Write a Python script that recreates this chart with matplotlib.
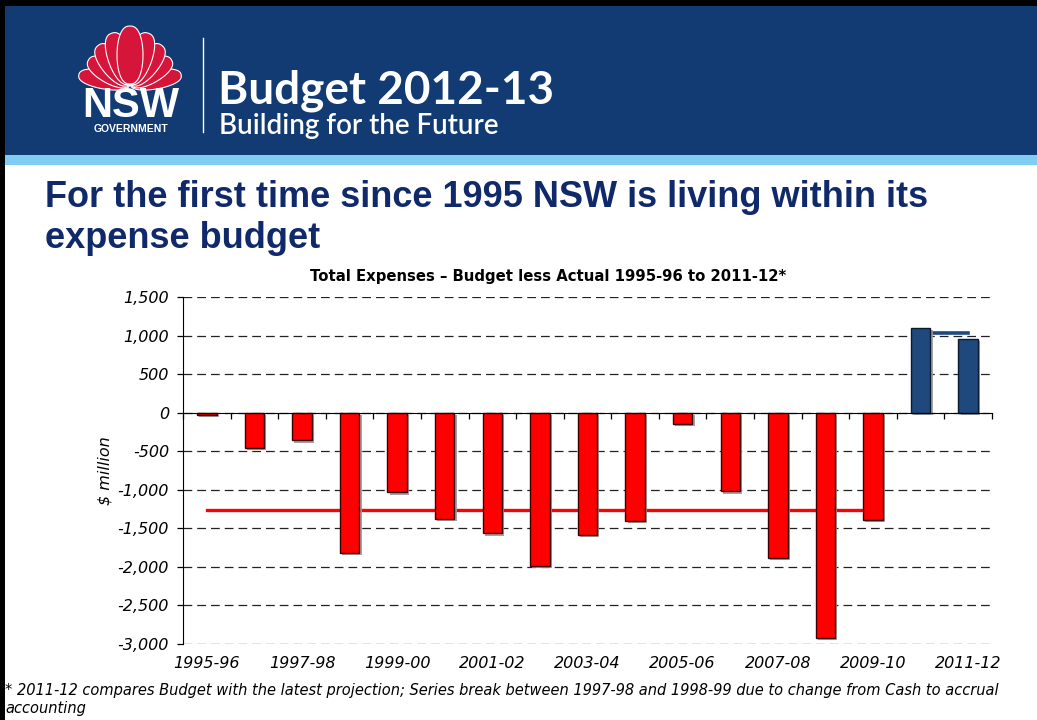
import numpy as np
import matplotlib
matplotlib.use('Agg')
import matplotlib.pyplot as plt
from matplotlib.patches import Rectangle, Polygon
from matplotlib.lines import Line2D
from matplotlib import patheffects
from matplotlib.ticker import FuncFormatter

# data ($ million, budget less actual)
years = ['1995-96', '1996-97', '1997-98', '1998-99', '1999-00', '2000-01',
         '2001-02', '2002-03', '2003-04', '2004-05', '2005-06', '2006-07',
         '2007-08', '2008-09', '2009-10', '2010-11', '2011-12']
budget_less_actual = [-25, -460, -360, -1820, -1035, -1380, -1565, -1990, -1590,
                      -1405, -145, -1020, -1885, -2920, -1395, 1095, 955]
red_years = years[:15]
blue_years = years[15:]
red_avg = -1260
blue_avg = 1030
y_ticks = [-3000, -2500, -2000, -1500, -1000, -500, 0, 500, 1000, 1500]

W, H = 1037, 720
fig = plt.figure(figsize=(W / 100, H / 100), dpi=100)
fig.patch.set_facecolor('white')

def fx(x):
    return x / W

def fy(y):
    return 1 - y / H

# ---- slide header ----
fig.patches.append(Rectangle((0, fy(155)), 1, fy(6) - fy(155), transform=fig.transFigure,
                             facecolor='#123a73', edgecolor='none', zorder=0))
fig.patches.append(Rectangle((0, fy(165)), 1, fy(155) - fy(165), transform=fig.transFigure,
                             facecolor='#80ccf2', edgecolor='none', zorder=0))
fig.patches.append(Rectangle((0, fy(6)), 1, 1 - fy(6), transform=fig.transFigure,
                             facecolor='black', edgecolor='none', zorder=0))
fig.patches.append(Rectangle((0, 0), fx(5), 1, transform=fig.transFigure,
                             facecolor='black', edgecolor='none', zorder=0))

# waratah logo (rough)
def petal(bx, by, length, width, ang):
    t = np.linspace(0, np.pi, 30)
    along = length * (1 - np.cos(t)) / 2
    side = width / 2 * np.sin(t) ** 0.8
    pts_l = np.column_stack([-side, along])
    pts_r = np.column_stack([side[::-1], along[::-1]])
    pts = np.vstack([pts_l, pts_r])
    a = np.deg2rad(ang)
    rx = pts[:, 0] * np.cos(a) + pts[:, 1] * np.sin(a)
    ry = -pts[:, 0] * np.sin(a) + pts[:, 1] * np.cos(a)
    return np.column_stack([fx(bx + rx), fy(by - ry)])

for length, width, ang in [(52, 19, 80), (48, 22, 60), (50, 24, 40), (54, 25, 20), (58, 26, 0)]:
    for sgn in ([1, -1] if ang else [1]):
        fig.patches.append(Polygon(petal(130, 84, length, width, sgn * ang), closed=True,
                                   transform=fig.transFigure, facecolor='#d6153b',
                                   edgecolor='white', linewidth=0.8, zorder=1))

fig.text(fx(131), fy(117), 'NSW', color='white', fontsize=30, fontweight='bold',
         family='Liberation Sans', ha='center', va='baseline')
fig.text(fx(131), fy(132), 'GOVERNMENT', color='white', fontsize=7.5, fontweight='bold',
         family='Liberation Sans', ha='center', va='baseline')
fig.lines.append(Line2D([fx(203), fx(203)], [fy(38), fy(132)], transform=fig.transFigure,
                        color='white', linewidth=1))
fig.text(fx(218), fy(103), 'Budget 2012-13', color='white', fontsize=33, fontweight='bold',
         family='Lato', ha='left', va='baseline')
fig.text(fx(219), fy(134), 'Building for the Future', color='white', fontsize=20,
         fontweight='semibold', family='Lato', ha='left', va='baseline')

# heading
fig.text(fx(45), fy(207), 'For the first time since 1995 NSW is living within its',
         color='#10296a', fontsize=26, fontweight='bold', family='Liberation Sans',
         va='baseline')
fig.text(fx(45), fy(248), 'expense budget', color='#10296a', fontsize=26,
         fontweight='bold', family='Liberation Sans', va='baseline')

# ---- chart ----
ax = fig.add_axes([fx(183), fy(644), fx(992) - fx(183), fy(297) - fy(644)])
x = np.arange(len(years))
colors = ['#ff0000'] * len(red_years) + ['#1f497d'] * len(blue_years)
edges = ['#3a0000'] * len(red_years) + ['#0b1a2e'] * len(blue_years)
shadow = [patheffects.SimplePatchShadow(offset=(1.6, -1.6), shadow_rgbFace='#9a9a9a', alpha=0.9),
          patheffects.Normal()]
bars = ax.bar(x, budget_less_actual, width=0.41, color=colors, edgecolor=edges,
              linewidth=1.0, zorder=3)
for b in bars:
    b.set_path_effects(shadow)

ax.plot([x[0], x[len(red_years) - 1]], [red_avg, red_avg], color='#ff0000', lw=2.4, zorder=2)
ax.plot([x[len(red_years)], x[-1]], [blue_avg, blue_avg], color='#1f497d', lw=2.6, zorder=2)

ax.set_xlim(-0.5, len(years) - 0.5)
ax.set_ylim(-3000, 1500)
ax.set_yticks(y_ticks)
ax.yaxis.set_major_formatter(FuncFormatter(lambda v, p: f'{v:,.0f}'))
ax.yaxis.grid(True, linestyle=(0, (7, 4)), color='#222222', linewidth=0.9)
ax.set_axisbelow(True)

ax.spines['right'].set_visible(False)
ax.spines['bottom'].set_visible(False)
ax.spines['top'].set_position(('data', 0))
ax.spines['top'].set_zorder(4)
ax.spines['left'].set_color('black')

ax.set_xticks(x[::2])
ax.set_xticklabels(years[::2])
ax.set_xticks(np.arange(-0.5, len(years)), minor=True)
ax.tick_params(axis='x', which='major', bottom=True, top=False, length=0, pad=9,
               labelsize=11.5)
ax.tick_params(axis='x', which='minor', bottom=False, top=True, direction='in', length=4,
               width=0.9)
ax.tick_params(axis='y', direction='out', length=4, width=0.9, pad=6, labelsize=11.5)
for lab in ax.get_xticklabels() + ax.get_yticklabels():
    lab.set_fontstyle('italic')

ax.set_ylabel('$ million', fontsize=11.5, style='italic')
ax.yaxis.set_label_coords(fx(113 - 183) / (fx(992) - fx(183)), 0.5)

fig.text(fx(548), fy(276), 'Total Expenses \u2013 Budget less Actual 1995-96 to 2011-12*',
         fontsize=10.75, fontweight='bold', ha='center', va='center')

fig.text(fx(5), fy(690), '* 2011-12 compares Budget with the latest projection; Series break '
         'between 1997-98 and 1998-99 due to change from Cash to accrual',
         fontsize=10.5, style='italic', va='center')
fig.text(fx(5), fy(709), 'accounting', fontsize=10.5, style='italic', va='center')

fig.savefig('out.png', dpi=100)
